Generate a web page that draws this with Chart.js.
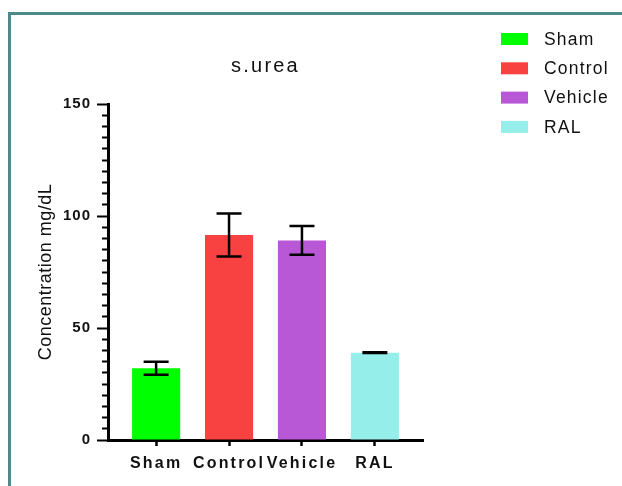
<!DOCTYPE html>
<html>
<head>
<meta charset="utf-8">
<script src="https://cdn.jsdelivr.net/npm/chart.js@4/dist/chart.umd.min.js"></script>
<style>
  html, body { margin: 0; padding: 0; background: #fff; overflow: hidden; }
  #wrap { position: relative; width: 622px; height: 486px; }
  .frame { position: absolute; left: 8px; top: 12px; width: 700px; height: 600px;
           border-top: 3px solid #4d8a8b; border-left: 3px solid #4d8a8b; }
  canvas { position: absolute; left: 0; top: 0; }
</style>
</head>
<body>
<div id="wrap">
  <div class="frame"></div>
  <canvas id="chart" width="622" height="486"></canvas>
</div>
<script>
// Serum urea per group (mean and SEM, mg/dL)
const categories = ['Sham', 'Control', 'Vehicle', 'RAL'];
const means = [32.0, 91.5, 89.1, 39.0];
const errors = [2.9, 9.6, 6.4, 0.2];
const barColors = ['#00ff00', '#f84242', '#b858d6', '#95eeea'];
const yTickLabels = [0, 50, 100, 150];

const FONT = "'Liberation Sans', Arial, sans-serif";
const INK = '#111';

// Wider tracking for the chart's text
const textSpacing = {
  id: 'textSpacing',
  beforeLayout(chart) { chart.ctx.letterSpacing = '2.2px'; },
  beforeDraw(chart) { chart.ctx.letterSpacing = '2.2px'; }
};

// Mean ± SEM whiskers with caps
const errorBars = {
  id: 'errorBars',
  afterDatasetsDraw(chart) {
    const { ctx } = chart;
    const y = chart.scales.y;
    const meta = chart.getDatasetMeta(0);
    ctx.save();
    ctx.strokeStyle = '#000';
    ctx.lineWidth = 2.5;
    ctx.lineCap = 'butt';
    const half = 12.5;
    meta.data.forEach((bar, i) => {
      const x = bar.x;
      const yTop = y.getPixelForValue(means[i] + errors[i]);
      const yBot = y.getPixelForValue(means[i] - errors[i]);
      ctx.beginPath();
      ctx.moveTo(x, yTop); ctx.lineTo(x, yBot);
      ctx.moveTo(x - half, yTop); ctx.lineTo(x + half, yTop);
      ctx.moveTo(x - half, yBot); ctx.lineTo(x + half, yBot);
      ctx.stroke();
    });
    ctx.restore();
  }
};

// Group key in the top-right corner
const groupKey = {
  id: 'groupKey',
  afterDraw(chart) {
    const { ctx } = chart;
    const x0 = chart.width - 121;
    const y0 = 39;
    const step = 29.3;
    ctx.save();
    ctx.letterSpacing = '1.2px';
    ctx.font = '17.5px ' + FONT;
    ctx.textBaseline = 'middle';
    ctx.textAlign = 'left';
    categories.forEach((name, i) => {
      const cy = y0 + i * step;
      ctx.fillStyle = barColors[i];
      ctx.fillRect(x0, cy - 6, 27, 12);
      ctx.fillStyle = INK;
      ctx.fillText(name, x0 + 43, cy + 1);
    });
    ctx.restore();
  }
};

const chart = new Chart(document.getElementById('chart'), {
  type: 'bar',
  data: {
    datasets: [{
      data: means.map((v, i) => ({ x: i, y: v })),
      backgroundColor: barColors,
      borderWidth: 0,
      categoryPercentage: 1,
      barPercentage: 0.66
    }]
  },
  plugins: [textSpacing, errorBars, groupKey],
  options: {
    responsive: false,
    animation: false,
    layout: { padding: { left: 33, top: 54, right: 199, bottom: 0 } },
    plugins: {
      legend: { display: false },
      tooltip: { enabled: false },
      title: {
        display: true,
        text: 's.urea',
        fullSize: false,
        color: INK,
        font: { family: FONT, size: 20, weight: 'normal' },
        padding: { top: 0, bottom: 26 }
      }
    },
    scales: {
      x: {
        type: 'linear',
        min: -0.66,
        max: 3.66,
        offset: false,
        afterBuildTicks: (axis) => { axis.ticks = categories.map((_, i) => ({ value: i })); },
        afterFit: (axis) => { axis.height = 46; },
        ticks: {
          callback: (v) => categories[v],
          autoSkip: false,
          maxRotation: 0,
          padding: 8,
          color: INK,
          font: { family: FONT, size: 16, weight: 'bold' }
        },
        grid: {
          offset: false,
          drawOnChartArea: false,
          drawTicks: true,
          tickLength: 6,
          tickWidth: 2.5,
          tickColor: '#000'
        },
        border: { display: true, color: '#000', width: 3 }
      },
      y: {
        min: 0,
        max: 150,
        afterFit: (axis) => { axis.width = 107 - 33 + 1; },
        ticks: {
          stepSize: 5,
          autoSkip: false,
          padding: 6,
          color: INK,
          font: { family: FONT, size: 15, weight: 'bold' },
          callback: (v) => (yTickLabels.includes(v) ? String(v) : '')
        },
        grid: {
          drawOnChartArea: false,
          drawTicks: true,
          tickLength: 11,
          tickWidth: 2,
          tickColor: '#000',
          tickBorderDash: (c) => (yTickLabels.includes(c.tick.value) ? [] : [6, 5]),
          tickBorderDashOffset: (c) => (yTickLabels.includes(c.tick.value) ? 0 : 6)
        },
        border: { display: true, color: '#000', width: 3 },
        title: {
          display: true,
          text: 'Concentration mg/dL',
          color: INK,
          font: { family: FONT, size: 18, weight: 'normal' },
          padding: { top: 2, bottom: 0 }
        }
      }
    }
  }
});

// The value axis uses tighter tracking than the rest of the text
const yAxis = chart.scales.y;
function withSpacing(fn, spacing) {
  return function (...args) {
    this.ctx.save();
    this.ctx.letterSpacing = spacing;
    fn.apply(this, args);
    this.ctx.restore();
  };
}
yAxis.drawTitle = withSpacing(yAxis.drawTitle, '0.5px');
yAxis.drawLabels = withSpacing(yAxis.drawLabels, '1px');
chart.draw();
</script>
</body>
</html>
